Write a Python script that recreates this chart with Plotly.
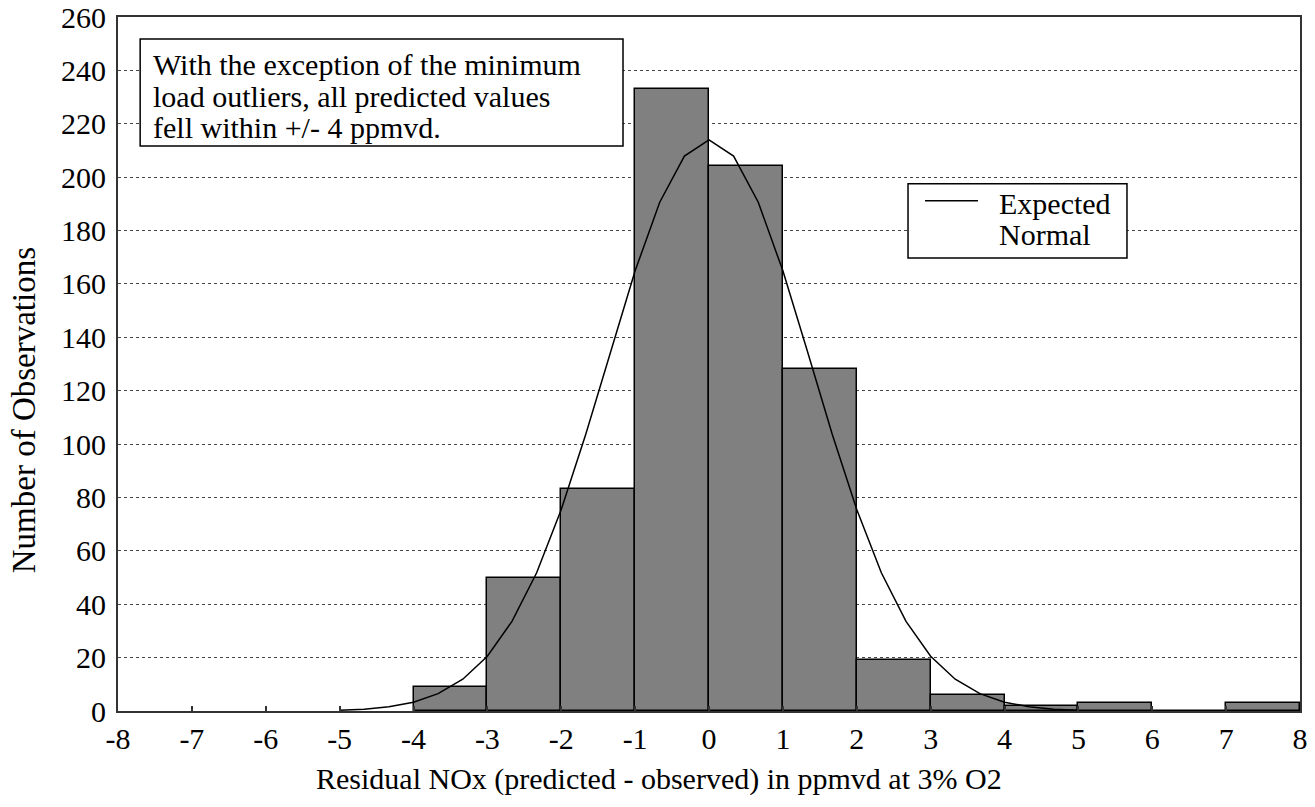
import plotly.graph_objects as go

# ---- data ----
bin_left_edges = [-4, -3, -2, -1, 0, 1, 2, 3, 4, 5, 6, 7]
bin_counts = [9, 50, 83, 233, 204, 128, 19, 6, 2, 3, 0, 3]

normal_x = [-5.0, -4.667, -4.333, -4.0, -3.667, -3.333, -3.0, -2.667, -2.333, -2.0,
            -1.667, -1.333, -1.0, -0.667, -0.333, 0.0, 0.333, 0.667, 1.0, 1.333,
            1.667, 2.0, 2.333, 2.667, 3.0, 3.333, 3.667, 4.0, 4.333, 4.667, 5.0]
normal_y = [0.3, 0.7, 1.6, 3.3, 6.5, 11.9, 20.5, 33.6, 51.8, 75.5,
            103.8, 134.7, 164.9, 190.6, 207.9, 214.0, 207.9, 190.6, 164.9, 134.7,
            103.8, 75.5, 51.8, 33.6, 20.5, 11.9, 6.5, 3.3, 1.6, 0.7, 0.3]

x_tick_vals = [-8, -7, -6, -5, -4, -3, -2, -1, 0, 1, 2, 3, 4, 5, 6, 7, 8]
x_tick_labels = ["-8", "-7", "-6", "-5", "-4", "-3", "-2", "-1", "0",
                 "1", "2", "3", "4", "5", "6", "7", "8"]
y_tick_vals = [0, 20, 40, 60, 80, 100, 120, 140, 160, 180, 200, 220, 240, 260]

note_lines = ["With the exception of the minimum",
              "load outliers, all predicted values",
              "fell within +/- 4 ppmvd."]
legend_lines = ["Expected", "Normal"]
x_title = "Residual NOx (predicted - observed) in ppmvd at 3% O2"
y_title = "Number of Observations"

FONT = "Liberation Serif"
FS = 30

bar_centers = [e + 0.5 for e in bin_left_edges]

fig = go.Figure()
fig.add_trace(go.Bar(
    x=bar_centers, y=bin_counts, width=1.0,
    marker=dict(color="#808080", line=dict(color="black", width=1.5)),
    showlegend=False, hoverinfo="skip"))
fig.add_trace(go.Scatter(
    x=normal_x, y=normal_y, mode="lines",
    line=dict(color="black", width=1.5), showlegend=False))

shapes = []
annotations = []

# note box
shapes.append(dict(type="rect", xref="x", yref="y", x0=-7.70, x1=-1.164,
                   y0=211.7, y1=251.8, fillcolor="white",
                   line=dict(color="black", width=1.5), layer="above"))
for txt, yy in zip(note_lines, [242.2, 230.4, 218.6]):
    annotations.append(dict(x=-7.55, y=yy, xref="x", yref="y", text=txt,
                            showarrow=False, xanchor="left", yanchor="middle",
                            font=dict(family=FONT, size=FS, color="black")))

# legend box
shapes.append(dict(type="rect", xref="x", yref="y", x0=2.694, x1=5.658,
                   y0=169.7, y1=197.5, fillcolor="white",
                   line=dict(color="black", width=1.5), layer="above"))
shapes.append(dict(type="line", xref="x", yref="y", x0=2.924, x1=3.641,
                   y0=191.2, y1=191.2, line=dict(color="black", width=1.5),
                   layer="above"))
for txt, yy in zip(legend_lines, [190.3, 178.5]):
    annotations.append(dict(x=3.898, y=yy, xref="x", yref="y", text=txt,
                            showarrow=False, xanchor="left", yanchor="middle",
                            font=dict(family=FONT, size=FS, color="black")))

# axis titles
annotations.append(dict(x=0.4577, y=-0.098, xref="paper", yref="paper",
                        text=x_title, showarrow=False, xanchor="center",
                        yanchor="middle",
                        font=dict(family=FONT, size=FS, color="black")))
annotations.append(dict(x=-0.080, y=0.434, xref="paper", yref="paper",
                        text=y_title, showarrow=False, textangle=-90,
                        xanchor="center", yanchor="middle",
                        font=dict(family=FONT, size=33, color="black")))

fig.update_layout(
    width=1315, height=807,
    margin=dict(l=118, r=15, t=17, b=96),
    paper_bgcolor="white", plot_bgcolor="white",
    font=dict(family=FONT, size=FS, color="black"),
    bargap=0, showlegend=False,
    shapes=shapes, annotations=annotations,
    xaxis=dict(range=[-8, 8], tickvals=x_tick_vals, ticktext=x_tick_labels,
               ticks="inside", ticklen=5, tickcolor="#333", tickwidth=1.5,
               showline=True, linecolor="#333", linewidth=2, mirror=True,
               showgrid=False, zeroline=False, automargin=False,
               tickfont=dict(family=FONT, size=FS, color="black")),
    yaxis=dict(range=[0, 260], tickvals=y_tick_vals,
               ticks="", showline=True, linecolor="#333", linewidth=2,
               mirror=True, showgrid=True, gridcolor="#444", gridwidth=1,
               griddash="dot", zeroline=False, automargin=False,
               ticklabelstandoff=4,
               tickfont=dict(family=FONT, size=FS, color="black")),
)

fig.write_html("out.html")
